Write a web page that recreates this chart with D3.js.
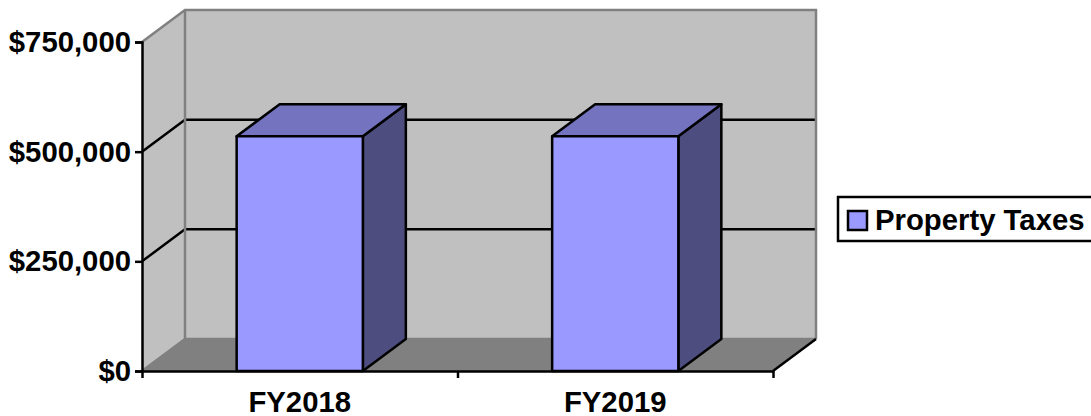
<!DOCTYPE html>
<html>
<head>
<meta charset="utf-8">
<script src="https://cdn.jsdelivr.net/npm/d3@7"></script>
<style>
  html, body { margin: 0; background: #fff; overflow: hidden; }
  text { font-family: "Liberation Sans", Arial, sans-serif; font-weight: bold; fill: #000; }
</style>
</head>
<body>
<div id="viz"></div>
<script>
const categories = ['FY2018', 'FY2019'];
const propertyTaxes = [535000, 535000];
const valueTicks = [0, 250000, 500000, 750000];
const seriesName = 'Property Taxes';

const width = 1091, height = 416;
const plotLeft = 142, plotRight = 773, plotTop = 42, plotBottom = 371;
// how far the back wall is pushed from the front plane
const depthX = 43, depthY = -32;

const wallFill = '#C0C0C0', floorFill = '#808080', edge = '#808080';
const barFront = '#9999FF', barTop = '#7373BF', barSide = '#4D4D80';
const fontSize = 29.3, lineWidth = 2.5;

const svg = d3.select('#viz')
    .append('svg')
    .attr('width', width)
    .attr('height', height)
    .style('display', 'block');

let xScale = d3.scaleBand()
    .domain(categories)
    .paddingInner(.6)
    .paddingOuter(.3)
    .range([plotLeft, plotRight]);

let yScale = d3.scaleLinear()
    .domain([0, 750000])
    .range([plotBottom, plotTop]);

// tick marks sit on the category boundaries, not the band centres
let edgeScale = d3.scaleLinear()
    .domain([0, categories.length])
    .range([plotLeft, plotRight]);

const points = (arr) => arr.map((p) => p.join(',')).join(' ');

// walls and floor
svg.append('polygon')
    .attr('points', points([[plotLeft, plotTop], [plotLeft + depthX, plotTop + depthY], [plotLeft + depthX, plotBottom + depthY], [plotLeft, plotBottom]]))
    .attr('fill', wallFill);

svg.append('rect')
    .attr('x', plotLeft + depthX)
    .attr('y', plotTop + depthY)
    .attr('width', plotRight - plotLeft)
    .attr('height', plotBottom - plotTop)
    .attr('fill', wallFill);

svg.append('polygon')
    .attr('points', points([[plotLeft, plotBottom], [plotLeft + depthX, plotBottom + depthY], [plotRight + depthX, plotBottom + depthY], [plotRight, plotBottom]]))
    .attr('fill', floorFill);

// gridlines wrap around the side wall and across the back
svg.selectAll('.grid')
    .data(valueTicks.filter((d) => d > 0 && d < 750000))
    .enter()
    .append('polyline')
    .attr('class', 'grid')
    .attr('fill', 'none')
    .attr('stroke', '#000')
    .attr('stroke-width', lineWidth)
    .attr('points', (d) => points([
        [plotLeft, yScale(d)],
        [plotLeft + depthX, yScale(d) + depthY],
        [plotRight + depthX, yScale(d) + depthY]
    ]));

// wall outline
svg.append('polyline')
    .attr('fill', 'none')
    .attr('stroke', edge)
    .attr('stroke-width', lineWidth)
    .attr('points', points([
        [plotLeft, plotTop],
        [plotLeft + depthX, plotTop + depthY],
        [plotRight + depthX, plotTop + depthY],
        [plotRight + depthX, plotBottom + depthY]
    ]));

svg.append('polyline')
    .attr('fill', 'none')
    .attr('stroke', edge)
    .attr('stroke-width', lineWidth)
    .attr('points', points([
        [plotLeft + depthX, plotTop + depthY],
        [plotLeft + depthX, plotBottom + depthY],
        [plotRight + depthX, plotBottom + depthY]
    ]));

svg.append('line')
    .attr('x1', plotLeft)
    .attr('y1', plotBottom)
    .attr('x2', plotLeft + depthX)
    .attr('y2', plotBottom + depthY)
    .attr('stroke', edge)
    .attr('stroke-width', lineWidth);

svg.append('line')
    .attr('x1', plotRight)
    .attr('y1', plotBottom)
    .attr('x2', plotRight + depthX)
    .attr('y2', plotBottom + depthY)
    .attr('stroke', '#000')
    .attr('stroke-width', lineWidth);

// bars: side and top faces first, then the front
const bars = svg.selectAll('.bar')
    .data(categories.map((c, i) => ({ category: c, value: propertyTaxes[i] })))
    .enter()
    .append('g')
    .attr('class', 'bar')
    .attr('stroke', '#000')
    .attr('stroke-width', lineWidth)
    .attr('stroke-linejoin', 'round');

bars.append('polygon')
    .attr('fill', barSide)
    .attr('points', (d) => {
        let x = xScale(d.category) + xScale.bandwidth();
        return points([[x, yScale(d.value)], [x + depthX, yScale(d.value) + depthY], [x + depthX, plotBottom + depthY], [x, plotBottom]]);
    });

bars.append('polygon')
    .attr('fill', barTop)
    .attr('points', (d) => {
        let x = xScale(d.category), y = yScale(d.value);
        return points([[x, y], [x + depthX, y + depthY], [x + xScale.bandwidth() + depthX, y + depthY], [x + xScale.bandwidth(), y]]);
    });

bars.append('rect')
    .attr('fill', barFront)
    .attr('x', (d) => xScale(d.category))
    .attr('y', (d) => yScale(d.value))
    .attr('width', xScale.bandwidth())
    .attr('height', (d) => plotBottom - yScale(d.value));

// axes
let yAxis = d3.axisLeft(yScale)
    .tickValues(valueTicks)
    .tickSize(7)
    .tickPadding(4)
    .tickFormat((d) => '$' + d3.format(',')(d));

let yG = svg.append('g')
    .attr('transform', `translate(${plotLeft},0)`)
    .call(yAxis);

let xTicks = d3.axisBottom(edgeScale)
    .tickValues(d3.range(categories.length + 1))
    .tickSize(7)
    .tickSizeOuter(0)
    .tickFormat('');

let xTickG = svg.append('g')
    .attr('transform', `translate(0,${plotBottom})`)
    .call(xTicks);

let xAxis = d3.axisBottom(xScale)
    .tickSize(0)
    .tickPadding(20);

let xG = svg.append('g')
    .attr('transform', `translate(0,${plotBottom})`)
    .call(xAxis);
xG.select('.domain').remove();

[yG, xTickG].forEach((g) => {
    g.selectAll('.domain, .tick line')
        .attr('stroke', '#000')
        .attr('stroke-width', lineWidth);
});

[yG, xG].forEach((g) => {
    g.attr('font-family', null).attr('font-size', null);
    g.selectAll('text').style('font-size', fontSize + 'px');
});

// legend runs off the right of the page
svg.append('rect')
    .attr('x', 838)
    .attr('y', 197)
    .attr('width', 270)
    .attr('height', 44)
    .attr('fill', '#fff')
    .attr('stroke', '#000')
    .attr('stroke-width', lineWidth);

svg.append('rect')
    .attr('x', 848)
    .attr('y', 211)
    .attr('width', 19)
    .attr('height', 19)
    .attr('fill', barFront)
    .attr('stroke', '#000')
    .attr('stroke-width', lineWidth);

svg.append('text')
    .attr('x', 875)
    .attr('y', 230)
    .style('font-size', fontSize + 'px')
    .text(seriesName);
</script>
</body>
</html>
